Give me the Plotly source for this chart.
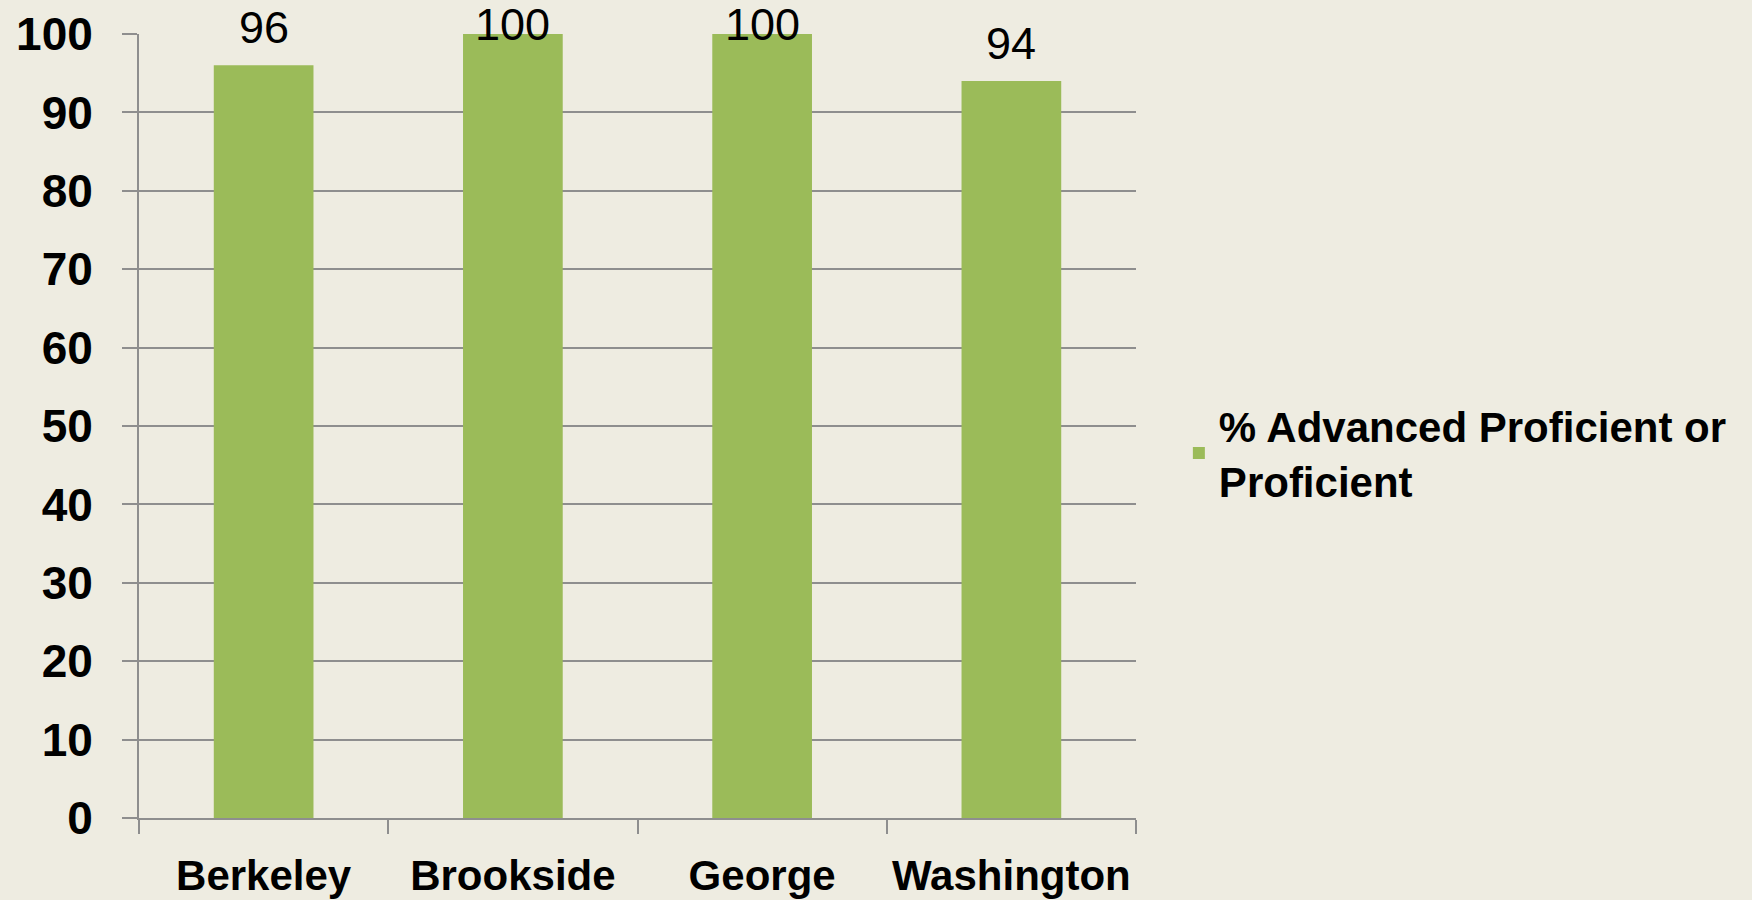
import plotly.graph_objects as go

categories = ["Berkeley", "Brookside", "George", "Washington"]
values = [96, 100, 100, 94]
series_name = "% Advanced Proficient or<br>Proficient"
y_ticks = [0, 10, 20, 30, 40, 50, 60, 70, 80, 90, 100]

BG = "#EEECE1"
BAR = "#9BBB59"
GRID = "#8E8E8E"

W, H = 1752, 900
M_L, M_R, M_T, M_B = 139, 616, 34, 82
Y_MAX = 100
px_per_unit = (H - M_T - M_B) / Y_MAX

fig = go.Figure()
fig.add_trace(go.Bar(
    x=categories, y=values, name=series_name,
    marker=dict(color=BAR, line=dict(width=0)),
    width=0.4, showlegend=True,
))

# data labels above bars; labels on full-height bars are pushed down so they stay on the page
for c, v in zip(categories, values):
    shift = min(38, 10 + (Y_MAX - v) * px_per_unit)
    fig.add_annotation(
        x=c, y=v, yref="y", text=str(v), showarrow=False,
        yanchor="middle", xanchor="center", yshift=shift,
        font=dict(family="Liberation Sans, Arial, sans-serif", size=45, color="#000000"),
    )

fig.update_layout(
    width=W, height=H,
    paper_bgcolor=BG, plot_bgcolor=BG,
    margin=dict(l=M_L, r=M_R, t=M_T, b=M_B, autoexpand=False),
    showlegend=True,
    legend=dict(
        x=1.043, y=0.465, xanchor="left", yanchor="middle",
        font=dict(family="Liberation Sans Narrow, Arial Narrow, sans-serif", size=42, color="#000000", weight="bold"),
        bgcolor="rgba(0,0,0,0)", itemwidth=30, tracegroupgap=0,
    ),
    xaxis=dict(
        showline=True, linecolor=GRID, linewidth=2,
        ticks="outside", ticklen=14, tickcolor=GRID, tickwidth=2,
        tickson="boundaries", showgrid=False,
        tickfont=dict(family="Liberation Sans Narrow, Arial Narrow, sans-serif", size=42, color="#000000", weight="bold"),
        ticklabelstandoff=20,
    ),
    yaxis=dict(
        range=[0, Y_MAX], tickvals=y_ticks,
        showline=True, linecolor=GRID, linewidth=2,
        showgrid=True, gridcolor=GRID, gridwidth=2,
        ticks="outside", ticklen=15, tickcolor=GRID, tickwidth=2,
        tickfont=dict(family="Liberation Sans, Arial, sans-serif", size=46, color="#000000", weight="bold"),
        ticklabelstandoff=20, zeroline=False,
    ),
)

fig.write_html(
    "out.html",
    config={"displayModeBar": False},
    post_script="document.body.style.margin='0';document.body.style.background='%s';" % BG,
)
